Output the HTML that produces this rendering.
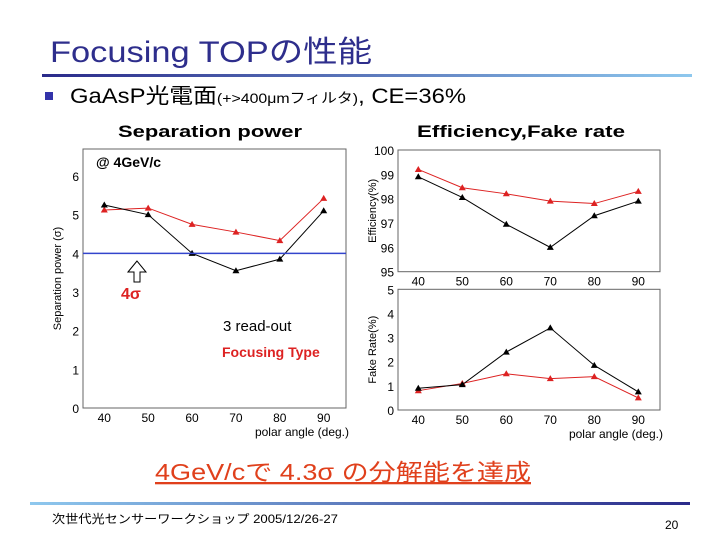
<!DOCTYPE html>
<html><head><meta charset="utf-8"><style>
html,body{margin:0;padding:0;background:#fff}
svg{display:block}
text{font-family:"Liberation Sans","Noto Sans CJK JP",sans-serif}
</style></head><body>
<svg id="s" width="720" height="540" xmlns="http://www.w3.org/2000/svg">
<defs>
<linearGradient id="g1" x1="0" x2="1"><stop offset="0" stop-color="#2a2a8a"/><stop offset="1" stop-color="#8ec8ee"/></linearGradient>
<linearGradient id="g2" x1="0" x2="1"><stop offset="0" stop-color="#8ec8ee"/><stop offset="1" stop-color="#2a2a8a"/></linearGradient>
</defs>
<text x="50" y="62" font-size="30" fill="#2e2e8c" textLength="322" lengthAdjust="spacingAndGlyphs">Focusing TOPの性能</text>
<rect x="42" y="74" width="650" height="3" fill="url(#g1)"/>
<rect x="45" y="92" width="8" height="8" fill="#3333aa"/>
<text x="70" y="103" font-size="21" fill="#000" textLength="396" lengthAdjust="spacingAndGlyphs">GaAsP光電面<tspan font-size="14">(+&gt;400μmフィルタ)</tspan>, CE=36%</text>
<text x="118" y="137" font-size="17" font-weight="bold" textLength="184" lengthAdjust="spacingAndGlyphs">Separation power</text>
<text x="417" y="137" font-size="17" font-weight="bold" textLength="208" lengthAdjust="spacingAndGlyphs">Efficiency,Fake rate</text>
<g id="charts"></g>
<text x="155" y="480" font-size="23" fill="#e0401c" text-decoration="underline" textLength="376" lengthAdjust="spacingAndGlyphs">4GeV/cで 4.3σ の分解能を達成</text>
<rect x="30" y="502" width="660" height="3" fill="url(#g2)"/>
<text x="52" y="523" font-size="12" textLength="286" lengthAdjust="spacingAndGlyphs">次世代光センサーワークショップ 2005/12/26-27</text>
<text x="665" y="529" font-size="12">20</text>
</svg>
<script>
const angles=[40,50,60,70,80,90];
const sepReadout=[5.25,5.0,4.0,3.55,3.85,5.1];
const sepFocusing=[5.12,5.17,4.75,4.55,4.33,5.42];
const effReadout=[98.9,98.05,96.95,96.0,97.3,97.9];
const effFocusing=[99.2,98.45,98.2,97.9,97.8,98.3];
const fakeReadout=[0.9,1.05,2.4,3.4,1.85,0.75];
const fakeFocusing=[0.8,1.1,1.5,1.3,1.38,0.5];
const sepTicks=[0,1,2,3,4,5,6];
const effTicks=[95,96,97,98,99,100];
const fakeTicks=[0,1,2,3,4,5];
const NS="http://www.w3.org/2000/svg";
const root=document.getElementById('charts');
function mk(tag,at,txt){const e=document.createElementNS(NS,tag);for(const k in at)e.setAttribute(k,at[k]);if(txt!==undefined)e.textContent=txt;root.appendChild(e);return e;}
function chart(name,box,ymin,ymax,ticks,series,ylabel,xlabel){
  const sx=v=>box.x40+(v-40)/50*(box.x90-box.x40);
  const sy=v=>box.bot-(v-ymin)/(ymax-ymin)*(box.bot-box.top);
  let e=mk('rect',{x:box.l,y:box.ft,width:box.r-box.l,height:box.bot-box.ft,fill:'none',stroke:'#666','stroke-width':1});
  
  ticks.forEach(t=>{
    e=mk('text',{x:box.l-4,y:sy(t)+5,'font-size':12,'text-anchor':'end'},String(t));
    
  });
  angles.forEach(a=>{
    e=mk('text',{x:sx(a),y:box.bot+14,'font-size':12,'text-anchor':'middle'},String(a));
    
  });
  e=mk('text',{x:0,y:0,'font-size':11,'text-anchor':'middle',transform:`translate(${box.l-22},${(box.ft+box.bot)/2}) rotate(-90)`},ylabel);
  
  if(xlabel){e=mk('text',{x:box.r+3,y:box.bot+28,'font-size':12,'text-anchor':'end'},xlabel);
  }
  series.forEach(s=>{
    e=mk('polyline',{points:s.v.map((v,i)=>sx(angles[i])+','+sy(v)).join(' '),fill:'none',stroke:s.c,'stroke-width':1});
    
    s.v.forEach((v,i)=>{const x=sx(angles[i]),y=sy(v);
      e=mk('polygon',{points:`${x},${y-3.5} ${x-3.5},${y+2.5} ${x+3.5},${y+2.5}`,fill:s.c});
      });
  });
  return {sx,sy};
}
const L=chart('separation',{l:83,r:346,ft:149,top:176,bot:408,x40:104.3,x90:323.7},0,6,sepTicks,
 [{n:'focusing',v:sepFocusing,c:'#dd2222'},{n:'readout',v:sepReadout,c:'#000'}],'Separation power  (σ)','polar angle (deg.)');
let e=mk('line',{x1:83,x2:346,y1:L.sy(4),y2:L.sy(4),stroke:'#3344cc','stroke-width':1.5});

e=mk('polygon',{points:'137,261 128,272 134,272 134,282 140,282 140,272 146,272',fill:'#fff',stroke:'#000','stroke-width':1});

e=mk('text',{x:121,y:299,'font-size':16,'font-weight':'bold',fill:'#dd2222'},'4σ');

e=mk('text',{x:96,y:167,'font-size':14,'font-weight':'bold'},'@ 4GeV/c');

e=mk('text',{x:223,y:331,'font-size':15},'3 read-out');

e=mk('text',{x:222,y:357,'font-size':14,'font-weight':'bold',fill:'#dd2222'},'Focusing Type');

chart('efficiency',{l:398,r:660,ft:150,top:150,bot:271.7,x40:418.3,x90:638.3},95,100,effTicks,
 [{n:'focusing',v:effFocusing,c:'#dd2222'},{n:'readout',v:effReadout,c:'#000'}],'Efficiency(%)',null);
chart('fake-rate',{l:398,r:660,ft:289.3,top:289.3,bot:410,x40:418.3,x90:638.3},0,5,fakeTicks,
 [{n:'focusing',v:fakeFocusing,c:'#dd2222'},{n:'readout',v:fakeReadout,c:'#000'}],'Fake Rate(%)','polar angle (deg.)');
</script>
</body></html>
